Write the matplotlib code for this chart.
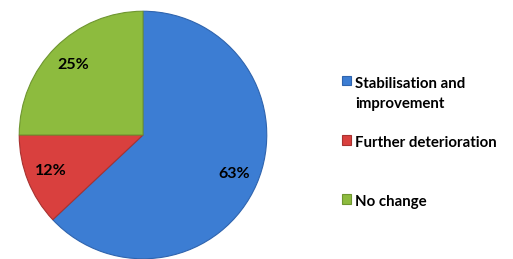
import numpy as np
import matplotlib
matplotlib.use("Agg")
import matplotlib.pyplot as plt

labels = ["Stabilisation and\nimprovement", "Further deterioration", "No change"]
shares = [63, 12, 25]
colors = ["#3C7DD3", "#D9403E", "#8DBB3E"]
edges = ["#2F64AE", "#A83230", "#6F9630"]

plt.rcParams['font.family'] = ['Lato', 'DejaVu Sans']

fig = plt.figure(figsize=(5.13, 2.59), dpi=100)
ax = fig.add_axes([18/513, -1/259, 250/513, 250/259])
wedges, texts, autotexts = ax.pie(shares, colors=colors, startangle=90,
                                  counterclock=False, autopct='%d%%',
                                  pctdistance=0.8,
                                  textprops=dict(fontsize=11.5, fontweight='bold', color='black'))
for w, ec in zip(wedges, edges):
    w.set_edgecolor(ec)
    w.set_linewidth(0.8)
ax.set_xlim(-1.01, 1.01)
ax.set_ylim(-1.01, 1.01)
ax.set_aspect('equal')

# every entry gets two lines so they are spread evenly, like Excel does
leg_labels = [l if "\n" in l else l + "\n" for l in labels]
leg = fig.legend(wedges, leg_labels, loc='upper left', bbox_to_anchor=(328/513, 1 - 63/259),
                 frameon=False, handlelength=0.6, handleheight=0.6, handletextpad=0.32,
                 labelspacing=1.65, prop=dict(size=10.8, weight='bold'))
for t in leg.get_texts():
    t.set_linespacing(1.6)
# put the square next to the first line
for h in leg.legend_handles:
    h.set_y(h.get_y() + 9.8)
fig.savefig("out.png", dpi=100)
